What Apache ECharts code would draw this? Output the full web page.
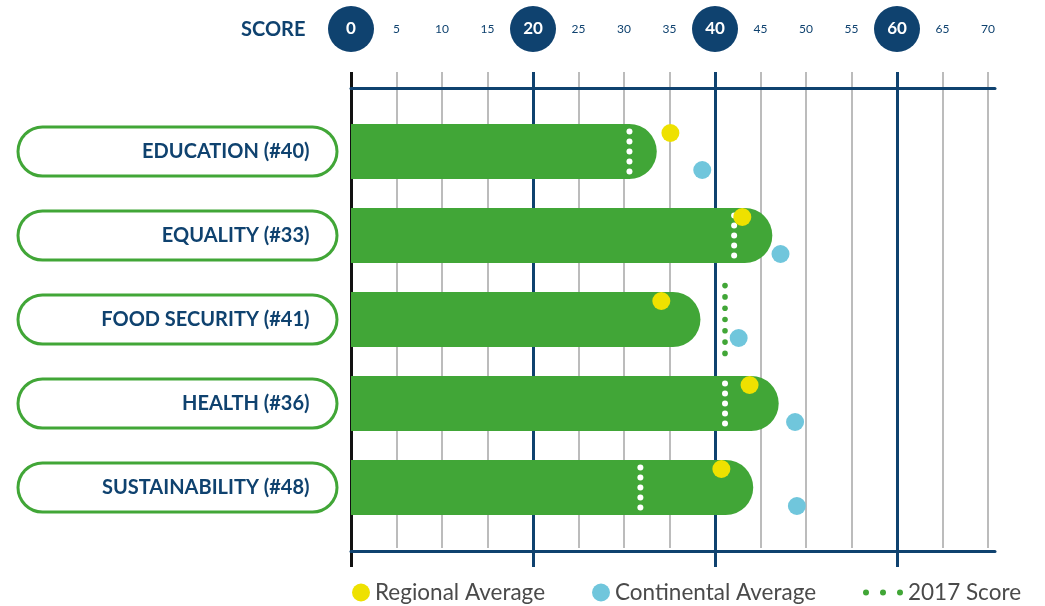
<!DOCTYPE html>
<html>
<head>
<meta charset="utf-8">
<script src="https://cdn.jsdelivr.net/npm/echarts@6/dist/echarts.min.js"></script>
<style>html,body{margin:0;padding:0;background:#fff;}#chart{width:1045px;height:606px;}</style>
</head>
<body>
<div id="chart"></div>
<script>
const categories = ['EDUCATION (#40)', 'EQUALITY (#33)', 'FOOD SECURITY (#41)', 'HEALTH (#36)', 'SUSTAINABILITY (#48)'];
const scores = [33.6, 46.3, 38.4, 47.0, 44.2];
const regionalAvg = [35.1, 43.0, 34.1, 43.8, 40.7];
const continentalAvg = [38.6, 47.2, 42.6, 48.8, 49.0];
const score2017 = [30.6, 42.1, 41.1, 41.1, 31.8];
const scoreTicks = [0, 5, 10, 15, 20, 25, 30, 35, 40, 45, 50, 55, 60, 65, 70];
const majorTicks = [0, 20, 40, 60];

const NAVY = '#0f426f', GREEN = '#41a637', YELLOW = '#eee100', BLUE = '#70c6dc', GREY = '#bcbcbc';
const FONT = 'Lato';
const xMin = scoreTicks[0], xMax = scoreTicks[scoreTicks.length - 1];
const minorStep = scoreTicks[1] - scoreTicks[0], majorStep = majorTicks[1] - majorTicks[0];

const chart = echarts.init(document.getElementById('chart'));
const dotIcon = 'path://M0,3a3,3 0 1,0 6,0a3,3 0 1,0 -6,0M17,3a3,3 0 1,0 6,0a3,3 0 1,0 -6,0M34,3a3,3 0 1,0 6,0a3,3 0 1,0 -6,0';
const legendText = { fontSize: 22.5, color: '#4a4a4a', fontFamily: FONT };

chart.setOption({
  backgroundColor: '#ffffff',
  animation: false,
  textStyle: { fontFamily: FONT },
  graphic: [{
    type: 'text', left: 241, top: 20,
    style: { text: 'SCORE', fill: NAVY, font: 'bold 20px Lato' }
  }],
  legend: [
    { data: [{ name: 'Regional Average', icon: 'circle' }], left: 352, top: 581, padding: 0, itemWidth: 18, itemHeight: 18, textStyle: legendText },
    { data: [{ name: 'Continental Average', icon: 'circle' }], left: 592, top: 581, padding: 0, itemWidth: 18, itemHeight: 18, textStyle: legendText },
    { data: [{ name: '2017 Score', icon: dotIcon, itemStyle: { color: GREEN } }], left: 863, top: 581, padding: 0, itemWidth: 40, itemHeight: 6, textStyle: legendText }
  ],
  grid: [
    { left: 351, right: 57, top: 72, bottom: 58 },      // minor grey lines + header labels
    { left: 351, right: 57, top: 72, bottom: 39 },      // major navy lines
    { left: 351, right: 50, top: 88, bottom: 55 },      // top/bottom frame lines
    { left: 351, right: 57, top: 109.5, bottom: 76.5 }  // bars
  ],
  xAxis: [
    { gridIndex: 0, type: 'value', position: 'top', min: xMin, max: xMax, interval: minorStep,
      axisLine: { show: false }, axisTick: { show: false },
      splitLine: { show: true, lineStyle: { color: GREY, width: 2 } },
      axisLabel: {
        show: true, margin: 20, interval: 0, showMinLabel: true, showMaxLabel: true,
        formatter: v => majorTicks.indexOf(v) >= 0 ? '{c|' + v + '}' : '{n|' + v + '}',
        rich: {
          c: { width: 46, height: 46, lineHeight: 46, borderRadius: 23, backgroundColor: NAVY, color: '#fff',
               fontSize: 17, fontWeight: 'bold', align: 'center', fontFamily: FONT },
          n: { height: 46, lineHeight: 46, color: NAVY, fontSize: 12, align: 'center', fontFamily: FONT }
        }
      } },
    { gridIndex: 1, type: 'value', min: xMin, max: xMax, interval: majorStep,
      axisLine: { show: false }, axisTick: { show: false }, axisLabel: { show: false },
      splitLine: { show: true, lineStyle: { color: ['#111111', NAVY, NAVY, NAVY, 'rgba(0,0,0,0)'], width: 3 } } },
    { gridIndex: 2, type: 'value', position: 'top', min: 0, max: 1,
      axisLine: { show: true, onZero: false, lineStyle: { color: NAVY, width: 3 } }, axisTick: { show: false }, axisLabel: { show: false }, splitLine: { show: false } },
    { gridIndex: 2, type: 'value', position: 'bottom', min: 0, max: 1,
      axisLine: { show: true, onZero: false, lineStyle: { color: NAVY, width: 3 } }, axisTick: { show: false }, axisLabel: { show: false }, splitLine: { show: false } },
    { gridIndex: 3, type: 'value', min: xMin, max: xMax, interval: minorStep, show: false }
  ],
  yAxis: [
    { gridIndex: 0, type: 'value', show: false },
    { gridIndex: 1, type: 'value', show: false },
    { gridIndex: 2, type: 'value', show: false },
    { gridIndex: 3, type: 'category', data: categories, inverse: true,
      axisLine: { show: false }, axisTick: { show: false }, splitLine: { show: false },
      axisLabel: {
        margin: 15.5, color: NAVY, fontSize: 20, fontWeight: 'bold', fontFamily: FONT,
        align: 'right',
        backgroundColor: '#ffffff', borderColor: GREEN, borderWidth: 3, borderRadius: 23,
        width: 290, height: 46, lineHeight: 46, padding: [0, 26, 0, 0]
      } }
  ],
  series: [
    { name: 'Score', type: 'bar', xAxisIndex: 4, yAxisIndex: 3, data: scores, barWidth: 55,
      itemStyle: { color: GREEN, borderRadius: [0, 27.5, 27.5, 0] }, z: 2 },
    { name: '2017 Score', type: 'custom', xAxisIndex: 4, yAxisIndex: 3, z: 3,
      itemStyle: { color: GREEN },
      data: score2017.map((v, i) => [v, i, scores[i]]),
      renderItem: function (params, api) {
        const p = api.coord([api.value(0), api.value(1)]);
        const inside = api.value(0) < api.value(2);
        const n = inside ? 5 : 7;
        const gap = inside ? 10 : 11.3;
        const r = inside ? 3 : 2.8;
        const fill = inside ? '#ffffff' : GREEN;
        const children = [];
        for (let k = 0; k < n; k++) {
          children.push({ type: 'circle', shape: { cx: p[0], cy: p[1] + (k - (n - 1) / 2) * gap, r: r }, style: { fill: fill } });
        }
        return { type: 'group', children: children };
      } },
    { name: 'Regional Average', type: 'scatter', xAxisIndex: 4, yAxisIndex: 3, z: 4,
      data: regionalAvg.map((v, i) => [v, i]), symbol: 'circle', symbolSize: 18, symbolOffset: [0, -18.5],
      itemStyle: { color: YELLOW, opacity: 1 } },
    { name: 'Continental Average', type: 'scatter', xAxisIndex: 4, yAxisIndex: 3, z: 4,
      data: continentalAvg.map((v, i) => [v, i]), symbol: 'circle', symbolSize: 18, symbolOffset: [0, 18.5],
      itemStyle: { color: BLUE, opacity: 1 } }
  ]
});
</script>
</body>
</html>
